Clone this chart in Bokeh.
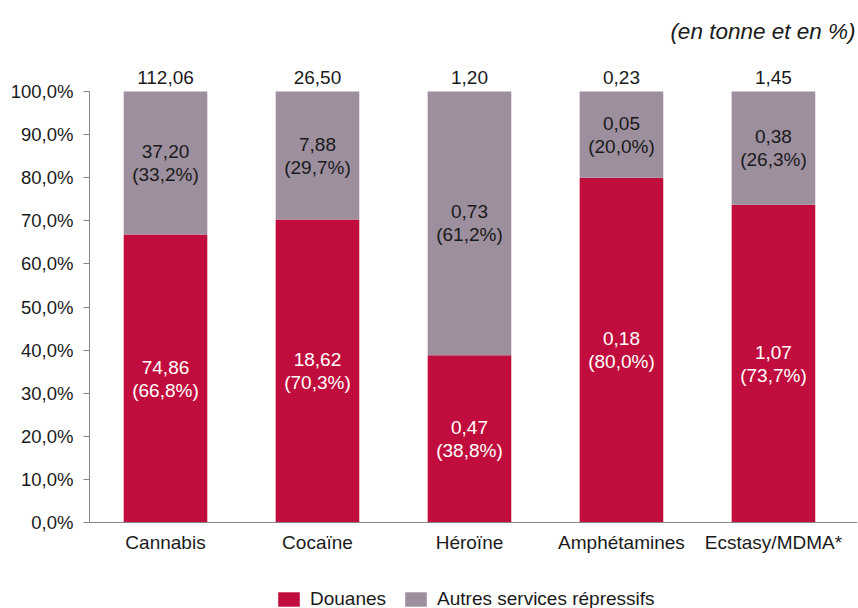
from bokeh.plotting import figure
from bokeh.models import ColumnDataSource, FixedTicker, Legend, LegendItem, Span
from bokeh.embed import file_html
from bokeh.resources import INLINE
from bokeh.core.properties import value

categories = ["Cannabis", "Cocaïne", "Héroïne", "Amphétamines", "Ecstasy/MDMA*"]
totals = [112.06, 26.50, 1.20, 0.23, 1.45]
douanes = [74.86, 18.62, 0.47, 0.18, 1.07]
autres = [37.20, 7.88, 0.73, 0.05, 0.38]
pct_douanes = [66.8, 70.3, 38.8, 80.0, 73.7]
pct_autres = [33.2, 29.7, 61.2, 20.0, 26.3]
y_ticks = [0, 10, 20, 30, 40, 50, 60, 70, 80, 90, 100]
unit_note = "(en tonne et en %)"

RED = "#C10D3D"
GREY = "#9D8F9E"
AXIS = "#868686"
INK = "#1a1a1a"
FONT = "Liberation Sans"


def fr2(v):
    return f"{v:.2f}".replace(".", ",")


def frp(v):
    return f"({v:.1f}%)".replace(".", ",")


xs = list(range(len(categories)))
src = ColumnDataSource(dict(
    x=xs,
    pd=pct_douanes,
    top=[100] * len(xs),
    base=[0] * len(xs),
    cat=categories,
    yd=[v / 2 for v in pct_douanes],
    ya=[v + (100 - v) / 2 for v in pct_douanes],
    td=[fr2(v) for v in douanes],
    tdp=[frp(v) for v in pct_douanes],
    ta=[fr2(v) for v in autres],
    tap=[frp(v) for v in pct_autres],
    tt=[fr2(v) for v in totals],
))

X_END = 4.553
p = figure(width=858, height=608, output_backend="svg", toolbar_location=None,
           x_range=(-0.5, X_END), y_range=(-86 / 4.31, 522 / 4.31),
           min_border_left=89, min_border_right=1, min_border_top=0, min_border_bottom=0)
p.outline_line_color = None
p.xgrid.visible = False
p.ygrid.visible = False
p.xaxis.visible = False

r1 = p.vbar(x="x", bottom=0, top="pd", width=0.55, fill_color=RED, line_color=None, source=src)
r2 = p.vbar(x="x", bottom="pd", top="top", width=0.55, fill_color=GREY, line_color=None, source=src)

common = dict(text_align="center", text_baseline="middle", text_font=value(FONT),
              text_font_size="19px", source=src)
p.text(x="x", y="yd", text="td", y_offset=-11.5, text_color="white", **common)
p.text(x="x", y="yd", text="tdp", y_offset=11.5, text_color="white", **common)
p.text(x="x", y="ya", text="ta", y_offset=-11.5, text_color=INK, **common)
p.text(x="x", y="ya", text="tap", y_offset=11.5, text_color=INK, **common)
p.text(x="x", y="top", text="tt", y_offset=-14, text_color=INK, **common)
# category labels under the baseline
p.text(x="x", y="base", text="cat", y_offset=20, text_color=INK, **common)

# baseline (x axis line)
p.add_layout(Span(location=0, dimension="width", line_color=AXIS, line_width=1))

# y axis
ya = p.yaxis[0]
ya.ticker = FixedTicker(ticks=y_ticks)
ya.bounds = (0, 100)
ya.major_label_overrides = {t: f"{t:.1f}".replace(".", ",") + "%" for t in y_ticks}
ya.axis_line_color = AXIS
ya.major_tick_line_color = AXIS
ya.major_tick_out = 6
ya.major_tick_in = 0
ya.minor_tick_line_color = None
ya.major_label_standoff = 10
ya.major_label_text_font = FONT
ya.major_label_text_font_size = "18.5px"
ya.major_label_text_color = INK

# unit note at top right
p.text(x=[X_END], y=[100], text=[unit_note], x_offset=-2, y_offset=-60,
       text_align="right", text_baseline="middle", text_font=value(FONT),
       text_font_size="22.5px", text_font_style="italic", text_color=INK)

legend = Legend(items=[LegendItem(label="Douanes", renderers=[r1]),
                       LegendItem(label="Autres services répressifs", renderers=[r2])],
                orientation="horizontal", location=(186, -2),
                glyph_width=27, glyph_height=18, label_standoff=8, spacing=16,
                padding=0, margin=0, border_line_color=None, background_fill_alpha=0,
                label_text_font=FONT, label_text_font_size="19px", label_text_color=INK,
                label_height=18)
p.add_layout(legend)

open("out.html", "w").write(file_html(p, INLINE))
